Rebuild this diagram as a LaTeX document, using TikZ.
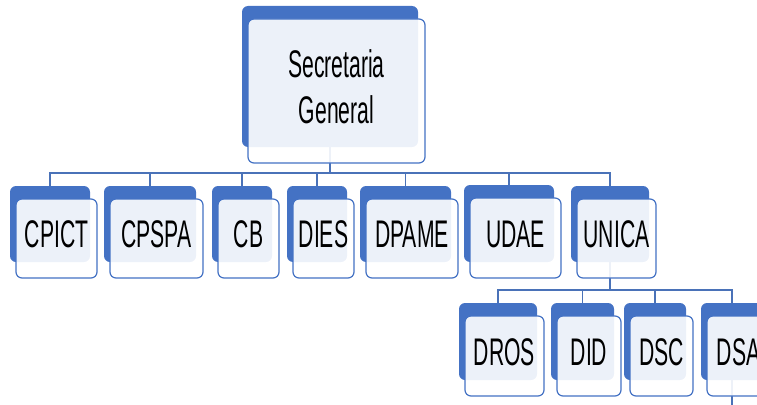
\documentclass[tikz,border=0pt]{standalone}
\usepackage{fontspec}
\setmainfont{Liberation Sans}[FakeStretch=0.55]
\usetikzlibrary{calc}
\definecolor{orgblue}{HTML}{4472C4}
\definecolor{linkblue}{HTML}{4A72B8}
\begin{document}
\begin{tikzpicture}[x=1pt,y=-1pt,
  backbox/.style 2 args={draw=none, fill=orgblue, rounded corners=6pt,
    minimum width=#1, minimum height=#2, inner sep=0pt, outer sep=0pt},
  frontbox/.style 2 args={draw=orgblue, line width=1.2pt, fill=white,
    fill opacity=0.9, text opacity=1, rounded corners=6pt,
    minimum width=#1+1pt, minimum height=#2+3pt, inner sep=0pt, outer sep=0pt,
    font=\fontsize{38.5}{46}\selectfont, align=center, text depth=8pt},
  link/.style={draw=linkblue, line width=1.6pt}]
\useasboundingbox (0,0) rectangle (757,404);
\clip (0,0) rectangle (757,404);

% blue back plates
\node[backbox={176pt}{141pt}] (sg-b)    at (330,76.5) {};
\node[backbox={80pt}{76pt}]   (cpict-b) at (50,224) {};
\node[backbox={92pt}{76pt}]   (cpspa-b) at (150,224) {};
\node[backbox={60pt}{76pt}]   (cb-b)    at (242,224) {};
\node[backbox={60pt}{76pt}]   (dies-b)  at (317,224) {};
\node[backbox={91pt}{76pt}]   (dpame-b) at (405.5,224) {};
\node[backbox={90pt}{77pt}]   (udae-b)  at (509,223.5) {};
\node[backbox={78pt}{76pt}]   (unica-b) at (610,224) {};
\node[backbox={78pt}{77pt}]   (dros-b)  at (498,341.5) {};
\node[backbox={63pt}{77pt}]   (did-b)   at (582.5,341.5) {};
\node[backbox={62pt}{77pt}]   (dsc-b)   at (655,341.5) {};
\node[backbox={62pt}{77pt}]   (dsa-b)   at (732,341.5) {};
\coordinate (dsa-out) at (732,420);

% connectors
\foreach \c in {cpict,cpspa,cb,dies,dpame,udae,unica}
  \draw[link] (sg-b.south) -- ++(0,26) -| (\c-b.north);
\foreach \c in {dros,did,dsc,dsa}
  \draw[link] (unica-b.south) -- ++(0,28) -| (\c-b.north);
\draw[link] (dsa-b.south) -- (dsa-out);

% front labels
\node[frontbox={176pt}{141pt}] (sg)    at ($(sg-b)+(6.5,14.5)$)    {Secretaria\\General};
\node[frontbox={80pt}{76pt}]   (cpict) at ($(cpict-b)+(6.5,14.5)$) {CPICT};
\node[frontbox={92pt}{76pt}]   (cpspa) at ($(cpspa-b)+(6.5,14.5)$) {CPSPA};
\node[frontbox={60pt}{76pt}]   (cb)    at ($(cb-b)+(6.5,14.5)$)    {CB};
\node[frontbox={60pt}{76pt}]   (dies)  at ($(dies-b)+(6.5,14.5)$)  {DIES};
\node[frontbox={91pt}{76pt}]   (dpame) at ($(dpame-b)+(6.5,14.5)$) {DPAME};
\node[frontbox={90pt}{77pt}]   (udae)  at ($(udae-b)+(6.5,14.5)$)  {UDAE};
\node[frontbox={78pt}{76pt}]   (unica) at ($(unica-b)+(6.5,14.5)$) {UNICA};
\node[frontbox={78pt}{77pt}]   (dros)  at ($(dros-b)+(6.5,14.5)$)  {DROS};
\node[frontbox={63pt}{77pt}]   (did)   at ($(did-b)+(6.5,14.5)$)   {DID};
\node[frontbox={62pt}{77pt}]   (dsc)   at ($(dsc-b)+(6.5,14.5)$)   {DSC};
\node[frontbox={62pt}{77pt}]   (dsa)   at ($(dsa-b)+(6.5,14.5)$)   {DSA};
\end{tikzpicture}
\end{document}
